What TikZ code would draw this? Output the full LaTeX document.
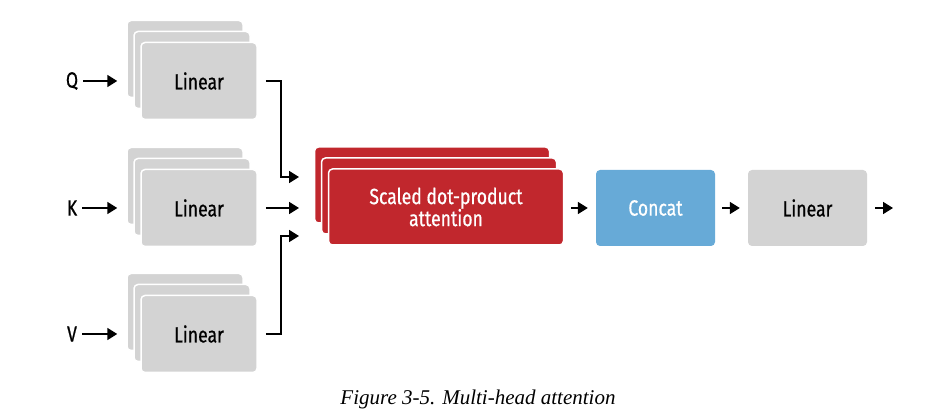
\documentclass[tikz,border=0pt]{standalone}
\usepackage{fontspec}
\setmainfont{Liberation Serif}
\newfontfamily\lblfont[FakeStretch=0.8,FakeBold=0.6]{Fira Sans}
\usetikzlibrary{arrows.meta}
\definecolor{boxgrey}{HTML}{D3D3D3}
\definecolor{attred}{HTML}{C1272D}
\definecolor{catblue}{HTML}{67AAD7}
\begin{document}
\begin{tikzpicture}[x=1pt,y=-1pt,
  lbl/.style={font=\lblfont\fontsize{22}{25}\selectfont},
  greybox/.style={lbl,fill=boxgrey,draw=white,line width=1.5pt,rounded corners=4pt,minimum width=116pt,minimum height=77pt,inner sep=0pt},
  redbox/.style={lbl,fill=attred,draw=white,line width=1.5pt,rounded corners=4pt,minimum width=235pt,minimum height=76pt,inner sep=0pt,text=white,align=center},
  bluebox/.style={lbl,fill=catblue,rounded corners=4pt,minimum width=119pt,minimum height=76pt,inner sep=0pt,text=white},
  flatgrey/.style={lbl,fill=boxgrey,rounded corners=4pt,minimum width=119pt,minimum height=76pt,inner sep=0pt},
  arr/.style={line width=1.8pt,-{Triangle[length=10pt,width=12pt]}},
  inlbl/.style={lbl,inner sep=0pt}]
\useasboundingbox (0,0) rectangle (937,419);
% Q stack
\node[greybox] (qb) at (185,59) {};
\node[greybox] (qm) at (192,70) {};
\node[greybox] (qf) at (199,81) {Linear};
% K stack
\node[greybox] (kb) at (185,186) {};
\node[greybox] (km) at (192,197) {};
\node[greybox] (kf) at (199,208) {Linear};
% V stack
\node[greybox] (vb) at (185,312) {};
\node[greybox] (vm) at (192,323) {};
\node[greybox] (vf) at (199,334) {Linear};
% input labels
\node[inlbl] (Q) at (72,81) {Q};
\node[inlbl] (K) at (72,208) {K};
\node[inlbl] (V) at (72,334) {V};
\draw[arr,shorten <=5pt,shorten >=9pt] (Q.east) -- (Q.east -| qb.west);
\draw[arr,shorten <=5pt,shorten >=9pt] (K.east) -- (K.east -| kb.west);
\draw[arr,shorten <=5pt,shorten >=9pt] (V.east) -- (V.east -| vb.west);
% red stack
\node[redbox] (rb) at (432,185) {};
\node[redbox] (rm) at (439,196) {};
\node[redbox] (rf) at (446,207) {Scaled dot-product\\[-3pt]attention};
% concat and final linear
\node[bluebox] (cc) at (655.5,208) {Concat};
\node[flatgrey] (lf) at (807.5,208) {Linear};
% connector coordinates
\coordinate (in1) at (299,177);
\coordinate (in2) at (299,208);
\coordinate (in3) at (299,236);
\coordinate (out) at (893,208);
\draw[arr,shorten <=8pt] (qf.east) -| (281,177) -- (in1);
\draw[arr,shorten <=8pt] (kf.east) -- (in2);
\draw[arr,shorten <=8pt] (vf.east) -| (281,236) -- (in3);
\draw[arr,shorten <=7pt,shorten >=8pt] (rf.east |- cc.west) -- (cc.west);
\draw[arr,shorten <=7pt,shorten >=8pt] (cc.east) -- (lf.west);
\draw[arr,shorten <=8pt] (lf.east) -- (out);
% caption
\node[font=\fontsize{21}{24}\selectfont\itshape] (cap) at (478,399) {Figure 3-5. Multi-head attention};
\end{tikzpicture}
\end{document}
